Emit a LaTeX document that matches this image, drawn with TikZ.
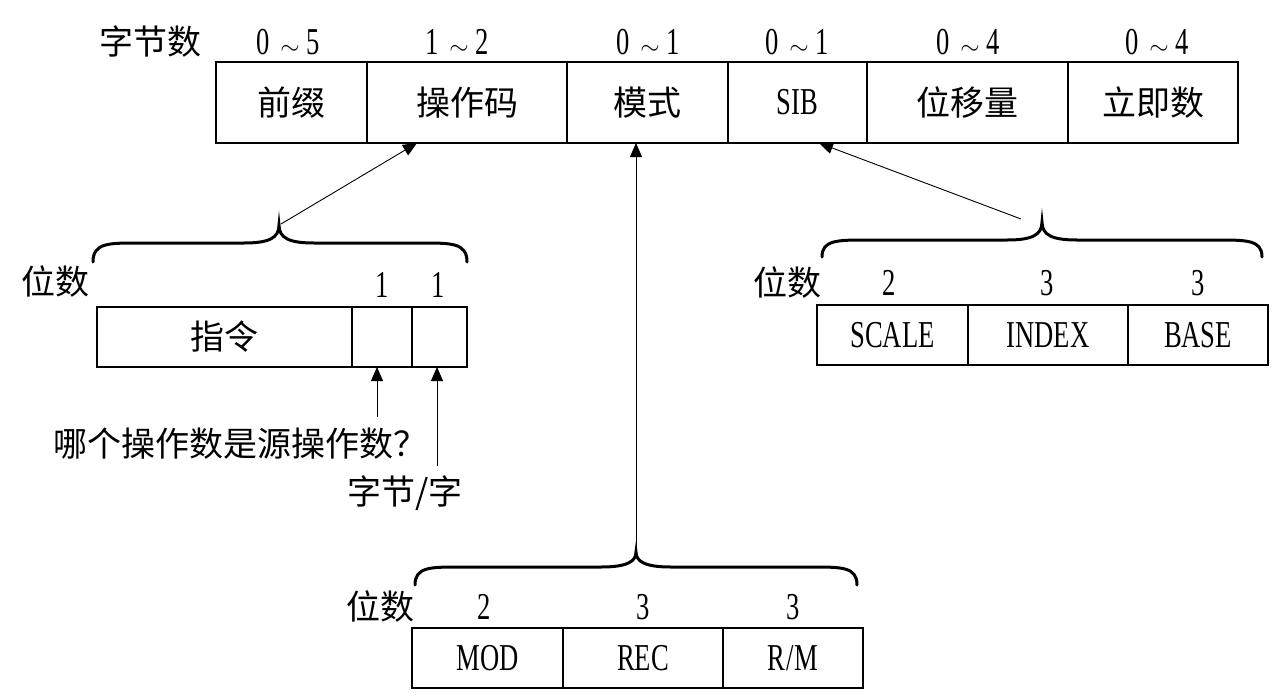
\documentclass[tikz,border=0pt]{standalone}
\usepackage{fontspec}
\usetikzlibrary{arrows.meta}
\newfontfamily\cjk{Noto Sans CJK SC}
\newfontfamily\lat{Liberation Serif}[FakeStretch=0.7]
\newcommand\fsz{\fontsize{34}{38}\selectfont}
\newcommand\lsz{\fontsize{38}{42}\selectfont}
\newcommand\hbrace[6]{\draw[brace] (#1,#4) .. controls (#1,#5) and (#1+15,#5) .. (#1+45,#5) -- (#3-35,#5) .. controls (#3-10,#5) and (#3,#5-5) .. (#3,#6) .. controls (#3,#5-5) and (#3+10,#5) .. (#3+35,#5) -- (#2-45,#5) .. controls (#2-15,#5) and (#2,#5) .. (#2,#4);}
\tikzset{
  cell/.style 2 args={minimum width=#1pt, minimum height=#2pt, inner sep=0pt, outer sep=0pt, font=\cjk\fsz},
  latcell/.style={font=\lat\lsz},
  boxline/.style={line width=1.1pt},
  divline/.style={line width=2.4pt},
  lbl/.style={inner sep=0pt, font=\lat\lsz},
  zh/.style={inner sep=0pt, font=\cjk\fsz},
  brace/.style={line width=3pt, line cap=round},
  conn/.style={line width=0.9pt, -{Triangle[length=14pt,width=12pt]}},
}
\begin{document}
\begin{tikzpicture}[x=1pt,y=-1pt]
\useasboundingbox (0,0) rectangle (1276,696);
% ---- top row ----
\node[zh] (zjs) at (150,42) {字节数};
\node[cell={151}{81}] (pre) at (291.5,102.5) {前缀};
\node[cell={200}{81}] (op) at (467,102.5) {操作码};
\node[cell={161}{81}] (mode) at (647.5,102.5) {模式};
\node[cell={139}{81},latcell] (sib) at (797.5,102.5) {SIB};
\node[cell={201}{81}] (disp) at (967.5,102.5) {位移量};
\node[cell={170}{81}] (imm) at (1153,102.5) {立即数};
\draw[boxline] (pre.north west) rectangle (imm.south east);
\foreach \c in {pre,op,mode,sib,disp}{\draw[divline] (\c.north east) -- (\c.south east);}
\node[lbl] (n1) at (288,42) {0\;$\sim$\,5};
\node[lbl] (n2) at (457,42) {1\;$\sim$\,2};
\node[lbl] (n3) at (648,42) {0\;$\sim$\,1};
\node[lbl] (n4) at (797,42) {0\;$\sim$\,1};
\node[lbl] (n5) at (968,42) {0\;$\sim$\,4};
\node[lbl] (n6) at (1157,42) {0\;$\sim$\,4};
% ---- left detail ----
\hbrace{93}{467}{279}{262}{243}{225}
\coordinate (lt) at (281,224);
\node[zh] (lws) at (55,282) {位数};
\node[lbl] (l1) at (382,285) {1};
\node[lbl] (l2) at (438,285) {1};
\node[cell={255}{60}] (b0) at (224.5,337) {指令};
\node[cell={60}{60}] (b1) at (382,337) {};
\node[cell={55}{60}] (b2) at (439.5,337) {};
\draw[boxline] (b0.north west) rectangle (b2.south east);
\foreach \c in {b0,b1}{\draw[divline] (\c.north east) -- (\c.south east);}
\coordinate (q1) at (377,417);
\coordinate (q2) at (437,466);
\draw[conn] (q1) -- (q1 |- b1.south);
\draw[conn] (q2) -- (q2 |- b2.south);
\node[zh] (qtxt) at (240,444) {哪个操作数是源操作数？};
\node[zh] (ztxt) at (405,493) {字节/字};
\draw[conn] (lt) -- ([xshift=-50pt]op.south);
% ---- right detail ----
\hbrace{822}{1262}{1042}{257}{240}{222}
\coordinate (rt) at (1021,219);
\node[zh] (rws) at (787,283) {位数};
\node[lbl] (r1) at (889,283) {2};
\node[lbl] (r2) at (1047,283) {3};
\node[lbl] (r3) at (1198,283) {3};
\node[cell={151}{60},latcell] (sc) at (892.5,335) {SCALE};
\node[cell={160}{60},latcell] (ix) at (1048,335) {INDEX};
\node[cell={140}{60},latcell] (bs) at (1198,335) {BASE};
\draw[boxline] (sc.north west) rectangle (bs.south east);
\foreach \c in {sc,ix}{\draw[divline] (\c.north east) -- (\c.south east);}
\draw[conn] (rt) -- ([xshift=21.5pt]sib.south);
% ---- bottom detail ----
\hbrace{415}{857}{636}{585}{567}{552}
\coordinate (bt) at (636,552);
\node[zh] (bws) at (380,607) {位数};
\node[lbl] (m1) at (484,607) {2};
\node[lbl] (m2) at (643,607) {3};
\node[lbl] (m3) at (793,607) {3};
\node[cell={151}{60},latcell] (md) at (487.5,658) {MOD};
\node[cell={160}{60},latcell] (rc) at (643,658) {REC};
\node[cell={140}{60},latcell] (rm) at (793,658) {R\kern1pt/\kern1pt M};
\draw[boxline] (md.north west) rectangle (rm.south east);
\foreach \c in {md,rc}{\draw[divline] (\c.north east) -- (\c.south east);}
\draw[conn] (bt) -- (bt |- mode.south);
\end{tikzpicture}
\end{document}
